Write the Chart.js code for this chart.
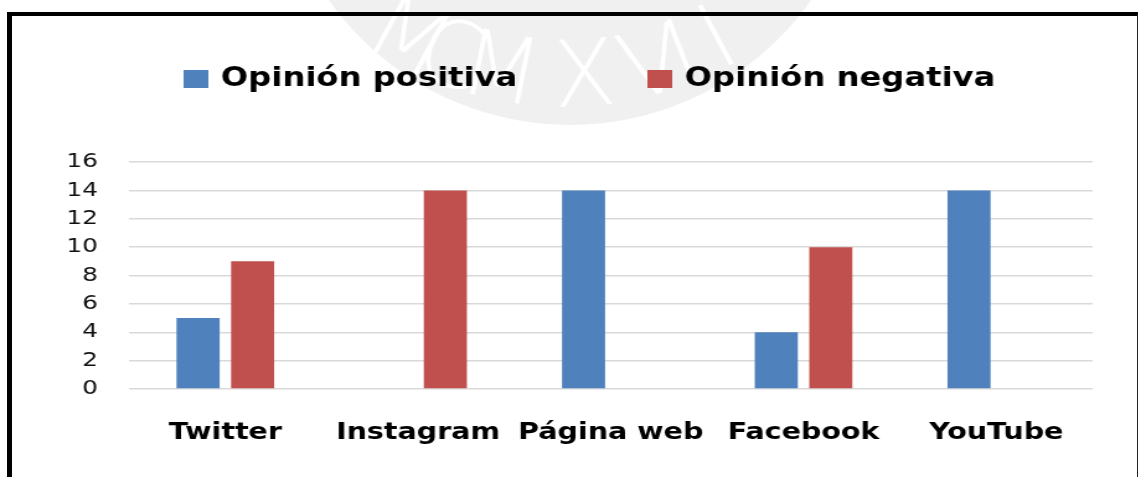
<!DOCTYPE html>
<html>
<head>
<meta charset="utf-8">
<script src="https://cdn.jsdelivr.net/npm/chart.js"></script>
<style>
  html, body { margin: 0; padding: 0; background: #fff; overflow: hidden; }
  #wrap { position: relative; width: 1141px; height: 477px; }
  #barChart { position: absolute; left: 0; top: 0; transform-origin: 0 0; }
  #frame {
    position: absolute; left: 7px; top: 12px; width: 1125px; height: 480px;
    border-left: 5px solid #000; border-top: 4px solid #000; border-right: 1px solid #222;
  }
</style>
</head>
<body>
<div id="wrap">
  <canvas id="barChart" width="920" height="477"></canvas>
  <div id="frame"></div>
</div>
<script>
// datos del gráfico
const categorias = ['Twitter', 'Instagram', 'Página web', 'Facebook', 'YouTube'];
const opinionPositiva = [5, 0, 14, 4, 14];
const opinionNegativa = [9, 14, 0, 10, 0];
const ticksY = [0, 2, 4, 6, 8, 10, 12, 14, 16];

// la imagen original está estirada en horizontal
const SX = 1141 / 920;
document.getElementById('barChart').style.transform = 'scaleX(' + SX + ')';

const marcaAgua = {
  id: 'marcaAgua',
  beforeDraw(chart) {
    const ctx = chart.ctx;
    ctx.save();
    ctx.fillStyle = '#fff';
    ctx.fillRect(0, 0, chart.width, chart.height);
    ctx.scale(1 / SX, 1);
    ctx.beginPath();
    ctx.arc(570, -170, 295, 0, Math.PI * 2);
    ctx.fillStyle = '#f0f0f0';
    ctx.fill();
    ctx.font = '200 92px "DejaVu Sans"';
    ctx.fillStyle = '#ffffff';
    ctx.textAlign = 'center';
    ctx.textBaseline = 'middle';
    const letras = 'MCMXVII';
    const angs = [-0.50, -0.36, -0.20, 0.06, 0.27, 0.37, 0.49];
    for (let i = 0; i < letras.length; i++) {
      const ang = angs[i];
      ctx.save();
      ctx.translate(565 + Math.sin(ang) * 330, -248 + Math.cos(ang) * 330);
      ctx.rotate(-ang);
      ctx.fillText(letras[i], 0, 0);
      ctx.restore();
    }
    ctx.restore();
  }
};

const leyenda = {
  id: 'leyenda',
  afterDraw(chart) {
    const ctx = chart.ctx;
    const pos = [148, 522];
    ctx.save();
    ctx.font = 'bold 26px "DejaVu Sans"';
    ctx.textBaseline = 'middle';
    chart.data.datasets.forEach((ds, i) => {
      ctx.fillStyle = ds.backgroundColor;
      ctx.fillRect(pos[i], 70, 20, 18);
      ctx.fillStyle = '#000';
      ctx.fillText(ds.label, pos[i] + 30, 79);
    });
    ctx.restore();
  }
};

const ctx = document.getElementById('barChart').getContext('2d');
new Chart(ctx, {
  type: 'bar',
  data: {
    labels: categorias,
    datasets: [
      { label: 'Opinión positiva', data: opinionPositiva, backgroundColor: '#4F81BD' },
      { label: 'Opinión negativa', data: opinionNegativa, backgroundColor: '#C0504D' }
    ]
  },
  options: {
    responsive: false,
    animation: false,
    layout: { padding: { top: 162, right: 39, left: 0, bottom: 0 } },
    datasets: { bar: { categoryPercentage: 0.566, barPercentage: 0.79 } },
    scales: {
      x: {
        grid: { display: false },
        border: { display: false },
        ticks: { color: '#000', padding: 22, font: { family: 'DejaVu Sans', size: 23, weight: 'bold' } },
        afterFit(scale) { scale.height = 88; }
      },
      y: {
        min: 0,
        max: 16,
        afterBuildTicks(scale) { scale.ticks = ticksY.map(v => ({ value: v })); },
        grid: { color: '#d9d9d9', lineWidth: 1.5, drawTicks: false },
        border: { display: false },
        ticks: { color: '#111', padding: 25, font: { family: 'DejaVu Sans', size: 20 } },
        afterFit(scale) { scale.width = 104; }
      }
    },
    plugins: {
      legend: { display: false },
      tooltip: { enabled: false }
    }
  },
  plugins: [marcaAgua, leyenda]
});
</script>
</body>
</html>
